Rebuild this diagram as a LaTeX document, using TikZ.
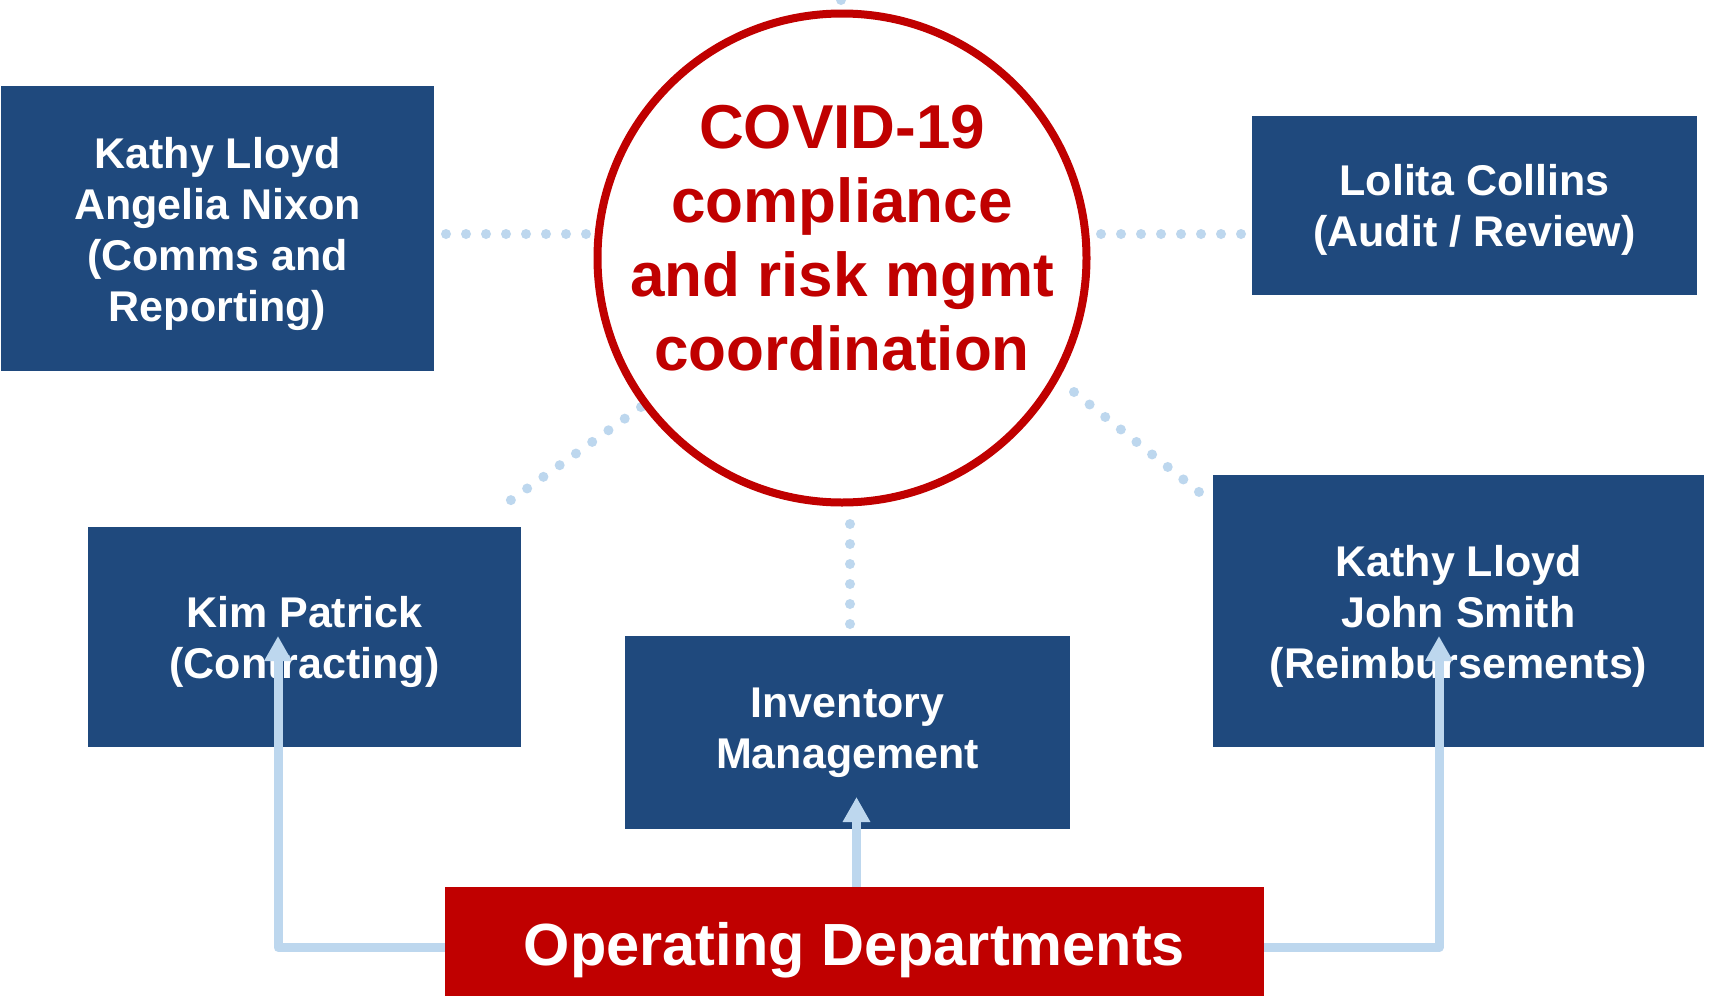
\documentclass[tikz,border=0pt]{standalone}
\usepackage{fontspec}
\setmainfont{Liberation Sans}
\usetikzlibrary{arrows.meta}
\definecolor{navy}{RGB}{31,73,125}
\definecolor{cred}{RGB}{192,0,0}
\definecolor{lblue}{RGB}{189,215,238}
\tikzset{
  box/.style={rectangle, fill=navy, inner sep=0pt, outer sep=0pt},
  boxtext/.style={text=white, inner sep=0pt, align=center,
    font=\fontsize{43}{51}\selectfont\bfseries},
  dots/.style={draw=lblue, line width=10pt, dash pattern=on 0pt off 20pt, line cap=round},
  arr/.style={draw=lblue, line width=9pt, line join=round,
    -{Triangle[width=26pt,length=25pt]}},
}
\begin{document}
\begin{tikzpicture}[x=1pt,y=-1pt]
\clip (0,0) rectangle (1709,996);
\fill[white] (0,0) rectangle (1709,996);

% dotted connector end points
\coordinate (d1a) at (446,234);
\coordinate (d1b) at (587,234);
\coordinate (d2a) at (1101,234);
\coordinate (d2b) at (1242,234);
\coordinate (d3a) at (641,407);
\coordinate (d3b) at (510.2,500.6);
\coordinate (d4a) at (1074,392);
\coordinate (d4b) at (1199.8,492.6);
\coordinate (d5a) at (850,524);
\coordinate (d5b) at (850,625);
\coordinate (dtop) at (841,0);

\node[box, minimum width=433pt, minimum height=285pt] (b1) at (217.5,228.5) {};
\node[boxtext] (b1t) at ([yshift=-5pt]b1.center)
  {Kathy Lloyd\\Angelia Nixon\\(Comms and\\Reporting)};
\node[box, minimum width=445pt, minimum height=179pt] (b2) at (1474.5,205.5) {};
\node[boxtext] (b2t) at ([yshift=-4pt]b2.center) {Lolita Collins\\(Audit / Review)};
\node[box, minimum width=433pt, minimum height=220pt] (b3) at (304.5,637) {};
\node[boxtext] (b3t) at ([yshift=-5pt]b3.center) {Kim Patrick\\(Contracting)};
\node[box, minimum width=445pt, minimum height=193pt] (b4) at (847.5,732.5) {};
\node[boxtext] (b4t) at (847.5,732.5) {Inventory\\Management};
\node[box, minimum width=491pt, minimum height=272pt] (b5) at (1458.5,611) {};
\node[boxtext] (b5t) at ([yshift=-5pt]b5.center) {Kathy Lloyd\\John Smith\\(Reimbursements)};

% dotted connectors
\draw[dots] (d1a) -- (d1b);
\draw[dots] (d2a) -- (d2b);
\draw[dots] (d3a) -- (d3b);
\draw[dots] (d4a) -- (d4b);
\draw[dots] (d5a) -- (d5b);

\node[circle, draw=cred, line width=8pt, fill=white, minimum size=489pt, inner sep=0pt] (circ) at (842,258) {};
\draw[dots] (dtop) -- (circ);
\node[text=cred, align=center, font=\fontsize{62}{74}\selectfont\bfseries, inner sep=0pt]
  (ct) at (842,238) {COVID-19\\compliance\\and risk mgmt\\coordination};

\node[rectangle, fill=cred, inner sep=0pt, minimum width=819pt, minimum height=113pt] (opd) at (854.5,943.5) {};
\node[text=white, inner sep=0pt, font=\fontsize{59.5}{70}\selectfont\bfseries] (opdt)
  at ([yshift=-6.5pt]opd.center) {Operating Departments};

% arrows
\coordinate (t1) at (278,636);
\coordinate (t2) at (856.5,797);
\coordinate (t3) at (1439,636);
\draw[arr] ([yshift=-4pt]opd.west) -| (t1);
\draw[arr] (opd.north -| t2) -- (t2);
\draw[arr] ([yshift=-4pt]opd.east) -| (t3);
\end{tikzpicture}
\end{document}
